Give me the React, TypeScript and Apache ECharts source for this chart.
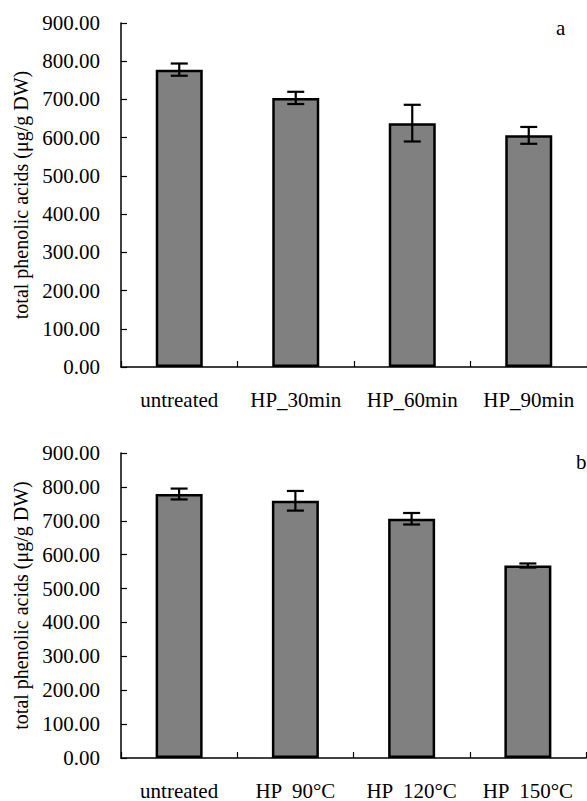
import React, { useEffect, useRef } from "react";
import * as echarts from "echarts";

const categoriesA = ["untreated", "HP_30min", "HP_60min", "HP_90min"];
const valuesA = [778, 704, 638, 606];
const errorsA = [16, 16, 48, 22];

const categoriesB = ["untreated", "HP  90°C", "HP  120°C", "HP  150°C"];
const valuesB = [779, 759, 706, 568];
const errorsB = [16, 29, 17, 6];

const yTicks = [0, 100, 200, 300, 400, 500, 600, 700, 800, 900];
const yTitle = "total phenolic acids (μg/g DW)";
const panelLabels = ["a", "b"];

const FONT = "Liberation Serif, serif";

function errorRender(params: any, api: any) {
  const lo = api.coord([api.value(0), api.value(1)]);
  const hi = api.coord([api.value(0), api.value(2)]);
  const cx = lo[0];
  const hw = 8.5;
  const style = { stroke: "#000", lineWidth: 2.2 };
  return {
    type: "group",
    children: [
      { type: "line", shape: { x1: cx, y1: lo[1], x2: cx, y2: hi[1] }, style },
      { type: "line", shape: { x1: cx - hw, y1: lo[1], x2: cx + hw, y2: lo[1] }, style },
      { type: "line", shape: { x1: cx - hw, y1: hi[1], x2: cx + hw, y2: hi[1] }, style },
    ],
  };
}

export default function App() {
  const ref = useRef<HTMLDivElement>(null);
  useEffect(() => {
    if (!ref.current) return;
    const chart = echarts.init(ref.current, null, { renderer: "svg" });

    const xAxisCommon = (idx: number, cats: string[]) => ({
      type: "category",
      gridIndex: idx,
      data: cats,
      axisLine: { lineStyle: { color: "#000", width: 1.5 } },
      axisTick: { show: true, inside: true, length: 6, alignWithLabel: false, lineStyle: { color: "#000", width: 1.2 } },
      axisLabel: { interval: 0, margin: 22, fontSize: 21, color: "#000", fontFamily: FONT },
    });
    const yAxisCommon = (idx: number) => ({
      type: "value",
      gridIndex: idx,
      min: yTicks[0],
      max: yTicks[yTicks.length - 1],
      interval: 100,
      name: yTitle,
      nameLocation: "middle",
      nameGap: 86,
      nameRotate: 90,
      nameTextStyle: { fontSize: 20, color: "#000", fontFamily: FONT },
      axisLine: { show: true, lineStyle: { color: "#000", width: 1.5 } },
      axisTick: { show: true, inside: true, length: 6, lineStyle: { color: "#000", width: 1.2 } },
      axisLabel: {
        margin: 21,
        fontSize: 21,
        color: "#000",
        fontFamily: FONT,
        formatter: (v: number) => v.toFixed(2),
      },
      splitLine: { show: false },
    });

    const barStyle = { color: "#808080", borderColor: "#000", borderWidth: 2.5 };

    chart.setOption({
      animation: false,
      backgroundColor: "#fff",
      textStyle: { fontFamily: FONT },
      grid: [
        { left: 121, top: 23, width: 470, height: 344 },
        { left: 121, top: 453, width: 465, height: 306 },
      ],
      xAxis: [xAxisCommon(0, categoriesA), xAxisCommon(1, categoriesB)],
      yAxis: [yAxisCommon(0), yAxisCommon(1)],
      series: [
        { type: "bar", xAxisIndex: 0, yAxisIndex: 0, data: valuesA, barWidth: 47, itemStyle: barStyle },
        {
          type: "custom",
          xAxisIndex: 0,
          yAxisIndex: 0,
          renderItem: errorRender,
          encode: { x: 0, y: [1, 2] },
          data: valuesA.map((v, i) => [i, v - errorsA[i], v + errorsA[i]]),
          z: 10,
        },
        { type: "bar", xAxisIndex: 1, yAxisIndex: 1, data: valuesB, barWidth: 47, itemStyle: barStyle },
        {
          type: "custom",
          xAxisIndex: 1,
          yAxisIndex: 1,
          renderItem: errorRender,
          encode: { x: 0, y: [1, 2] },
          data: valuesB.map((v, i) => [i, v - errorsB[i], v + errorsB[i]]),
          z: 10,
        },
      ],
      graphic: [
        { type: "text", x: 556, y: 17, style: { text: panelLabels[0], fontSize: 21, fill: "#000", fontFamily: FONT } },
        { type: "text", x: 576, y: 451, style: { text: panelLabels[1], fontSize: 21, fill: "#000", fontFamily: FONT } },
      ],
    });
    return () => chart.dispose();
  }, []);
  return <div ref={ref} style={{ position: "absolute", left: 0, top: 0, width: 587, height: 801 }} />;
}
